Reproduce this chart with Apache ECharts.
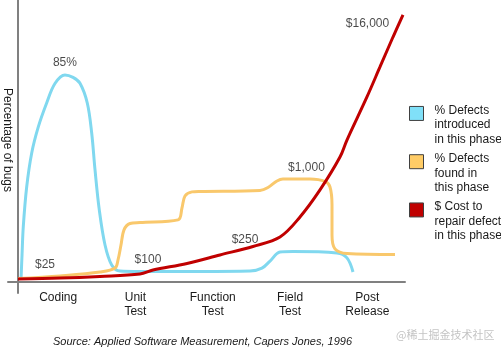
<!DOCTYPE html>
<html>
<head>
<meta charset="utf-8">
<script src="https://cdn.jsdelivr.net/npm/echarts@6/dist/echarts.min.js"></script>
<style>
  html, body { margin: 0; padding: 0; background: #fff; }
  #chart { width: 501px; height: 350px; }
</style>
</head>
<body>
<div id="chart"></div>
<script>
// Development phases along the x-axis
const phases = ['Coding', 'Unit\nTest', 'Function\nTest', 'Field\nTest', 'Post\nRelease'];

// Curves as [phase position, percent of bugs]; phase i spans [i, i + 1]
const introduced = [
  [0.039, 1.2], [0.052, 11.1], [0.068, 22.6], [0.112, 39.0], [0.177, 53.0],
  [0.262, 63.7], [0.370, 73.5], [0.477, 81.5], [0.606, 85.0], [0.710, 84.0],
  [0.800, 81.6], [0.894, 73.5], [0.951, 61.2], [0.994, 46.0], [1.049, 29.6],
  [1.123, 15.2], [1.209, 7.0], [1.316, 4.5], [1.574, 4.3], [2.348, 4.3],
  [2.994, 4.5], [3.148, 5.7], [3.252, 8.6], [3.381, 12.3], [3.548, 12.5],
  [4.116, 11.9], [4.245, 9.9], [4.323, 4.1]
];

const found = [
  [0.000, 1.4], [0.542, 2.5], [1.058, 4.1], [1.252, 5.7], [1.290, 9.0],
  [1.329, 15.2], [1.368, 21.4], [1.445, 24.0], [1.574, 24.4], [2.065, 25.5],
  [2.116, 30.4], [2.155, 35.3], [2.245, 37.0], [2.348, 37.2], [3.123, 37.6],
  [3.226, 38.8], [3.342, 41.5], [3.419, 42.3], [3.768, 42.3], [3.961, 41.3],
  [4.026, 39.0], [4.052, 31.6], [4.052, 19.3], [4.090, 13.6], [4.245, 11.7],
  [4.865, 11.3]
];

// Relative height of the repair-cost curve
const repairCost = [
  [0.000, 1.2], [0.542, 1.6], [1.058, 2.3], [1.574, 3.3], [1.742, 4.9],
  [2.181, 7.6], [2.606, 11.1], [3.032, 14.6], [3.381, 18.5], [3.639, 26.7],
  [3.897, 37.8], [4.155, 51.3], [4.245, 58.3], [4.503, 76.0], [4.671, 88.3],
  [4.839, 100.6], [4.968, 109.7]
];

// Points on the cost curve that carry the dollar annotations
const costAnchors = [[0.348, 1.45], [1.677, 4.3], [2.929, 13.75], [4.0, 43.2], [4.968, 109.7]];
const costLabels = ['$25', '$100', '$250', '$1,000', '$16,000'];

const seriesNames = [
  '% Defects\nintroduced\nin this phase',
  '% Defects\nfound in\nthis phase',
  '$ Cost to\nrepair defect\nin this phase'
];
const sourceNote = 'Source: Applied Software Measurement, Capers Jones, 1996';
const watermark = '@稀土掘金技术社区';

const FONT = 'Liberation Sans, Arial, sans-serif';
const TEXT = '#1a1a1a';
const AXIS = '#808080';
const lineColors = ['#80d8ef', '#f9c86c', '#c00000'];
const legendFills = ['#80e0f8', '#ffcc66', '#c00000'];
const costOffsets = [[0, -13.5], [0, -11.5], [0, -8.5], [-21.5, -9.3], [-35.5, 9]];

// Peak of the "introduced" curve, used for its annotation
const peak = introduced.reduce((a, b) => (b[1] > a[1] ? b : a));

const chart = echarts.init(document.getElementById('chart'), null, { renderer: 'canvas' });

const lineSeries = [introduced, found, repairCost].map((data, i) => ({
  type: 'line',
  name: seriesNames[i],
  data: data,
  xAxisIndex: 0,
  yAxisIndex: 0,
  smooth: 0.35,
  showSymbol: false,
  silent: true,
  lineStyle: { color: lineColors[i], width: 3 },
  itemStyle: { color: lineColors[i] },
  z: 2 + i
}));

const labelBase = {
  show: true,
  position: 'inside',
  fontSize: 12,
  fontFamily: FONT,
  color: TEXT
};

// Legend text: a spacer row on top so the swatch sits beside the first line
const legendText = name =>
  '{s| }\n' + name.split('\n').map(l => '{t|' + l + '}').join('\n');

chart.setOption({
  animation: false,
  title: [
    {
      text: sourceNote, left: 53, top: 335, padding: 0,
      textStyle: { fontSize: 11, fontStyle: 'italic', fontWeight: 'normal', color: TEXT, fontFamily: FONT, lineHeight: 13 }
    },
    {
      text: watermark, left: 396, top: 328, padding: 0,
      textStyle: { fontSize: 11, fontWeight: 'normal', color: '#c4c4c4', fontFamily: 'Noto Sans CJK SC', lineHeight: 13 }
    }
  ],
  legend: {
    data: seriesNames.map((n, i) => ({
      name: n,
      itemStyle: { color: legendFills[i], borderColor: '#404040', borderWidth: 1 }
    })),
    orient: 'vertical',
    left: 409,
    top: 86,
    padding: 0,
    icon: 'rect',
    itemWidth: 14,
    itemHeight: 14,
    itemGap: -11,
    selectedMode: false,
    formatter: legendText,
    textStyle: {
      fontSize: 12, color: TEXT, fontFamily: FONT,
      rich: {
        s: { lineHeight: 23, fontSize: 12 },
        t: { lineHeight: 14.3, fontSize: 12, color: TEXT, fontFamily: FONT, padding: [0, 0, 0, 6] }
      }
    }
  },
  grid: [
    { left: 8, right: 96, top: 0, bottom: 57, outerBoundsMode: 'none' },
    { left: 19.5, right: 95, top: 0, bottom: 66, outerBoundsMode: 'none' }
  ],
  xAxis: [
    {
      type: 'value', gridIndex: 0, min: -0.129, max: 4.994,
      axisLine: { show: true, onZero: true, lineStyle: { color: AXIS, width: 2 } },
      axisTick: { show: false }, axisLabel: { show: false }, splitLine: { show: false }
    },
    {
      type: 'category', gridIndex: 1, data: phases, boundaryGap: true,
      axisLine: { show: false }, axisTick: { show: false }, splitLine: { show: false },
      axisLabel: { interval: 0, margin: 7, fontSize: 12, lineHeight: 14, color: TEXT, fontFamily: FONT }
    }
  ],
  yAxis: [
    {
      type: 'value', gridIndex: 0, min: -4.52, max: 115.8,
      axisLine: { show: true, onZero: true, lineStyle: { color: AXIS, width: 2 } },
      axisTick: { show: false }, axisLabel: { show: false }, splitLine: { show: false },
      name: 'Percentage of bugs', nameLocation: 'middle', nameRotate: -90, nameGap: -5,
      nameTextStyle: { fontSize: 12, color: TEXT, fontFamily: FONT, padding: [0, 13, 0, 0] }
    },
    { type: 'value', gridIndex: 1, show: false }
  ],
  series: lineSeries.concat([
    {
      type: 'scatter', xAxisIndex: 0, yAxisIndex: 0, silent: true, z: 6,
      symbolSize: 2, itemStyle: { color: 'rgba(0,0,0,0)' },
      data: [{ value: peak }],
      label: Object.assign({}, labelBase, { offset: [0, -12], formatter: p => p.value[1] + '%' })
    },
    {
      type: 'scatter', xAxisIndex: 0, yAxisIndex: 0, silent: true, z: 6,
      symbolSize: 2, itemStyle: { color: 'rgba(0,0,0,0)' },
      data: costAnchors.map((pt, i) => ({
        value: pt,
        label: Object.assign({}, labelBase, { offset: costOffsets[i], formatter: costLabels[i] })
      }))
    }
  ])
});
</script>
</body>
</html>
